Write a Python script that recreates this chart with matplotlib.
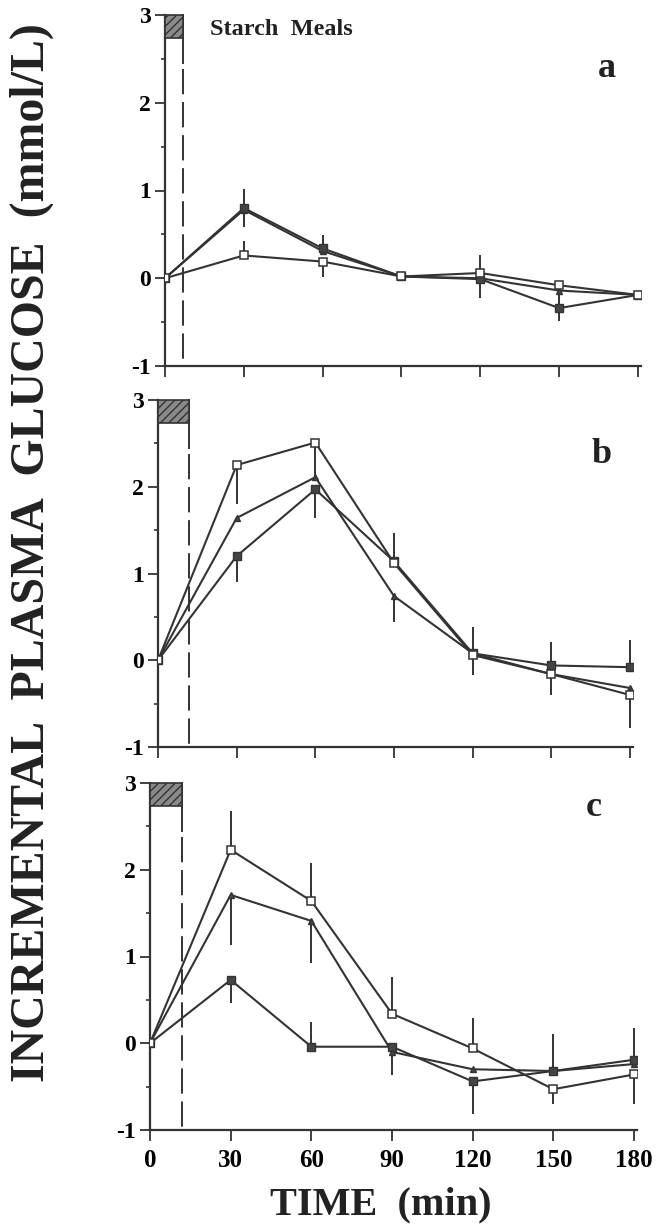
import matplotlib
matplotlib.use("Agg")
import matplotlib.pyplot as plt
from matplotlib.patches import Rectangle

plt.rcParams['font.family'] = ['Liberation Serif', 'DejaVu Serif']
plt.rcParams['font.weight'] = 'bold'

time = [0, 30, 60, 90, 120, 150, 180]

# panel a
a_open = [0, 0.26, 0.19, 0.02, 0.06, -0.08, -0.19]
a_fsq = [0, 0.80, 0.34, 0.02, -0.01, -0.34, -0.19]
a_tri = [0, 0.78, 0.31, 0.02, 0.00, -0.14, -0.19]
a_open_up = [0, 0.17, 0, 0, 0.20, 0, 0]
a_open_dn = [0, 0, 0.18, 0, 0, 0, 0]
a_fsq_up = [0, 0.22, 0.15, 0, 0, 0.19, 0]
a_fsq_dn = [0, 0.22, 0, 0, 0.21, 0.15, 0]
a_tri_up = [0, 0, 0, 0, 0, 0, 0]
a_tri_dn = [0, 0, 0, 0, 0, 0, 0]

# panel b
b_open = [0, 2.25, 2.51, 1.12, 0.06, -0.16, -0.40]
b_fsq = [0, 1.20, 1.97, 1.14, 0.08, -0.06, -0.08]
b_tri = [0, 1.64, 2.11, 0.74, 0.08, -0.16, -0.32]
b_open_up = [0, 0, 0, 0, 0, 0, 0]
b_open_dn = [0, 0.45, 0.40, 0, 0.23, 0.24, 0.38]
b_fsq_up = [0, 0, 0, 0.33, 0.30, 0.27, 0.31]
b_fsq_dn = [0, 0.30, 0.33, 0, 0, 0, 0]
b_tri_up = [0, 0, 0, 0, 0, 0, 0]
b_tri_dn = [0, 0, 0, 0.30, 0, 0, 0]

# panel c
c_open = [0, 2.23, 1.64, 0.34, -0.06, -0.53, -0.36]
c_fsq = [0, 0.73, -0.04, -0.04, -0.44, -0.32, -0.19]
c_tri = [0, 1.71, 1.41, -0.10, -0.30, -0.32, -0.24]
c_open_up = [0, 0.45, 0.44, 0.42, 0.35, 0, 0]
c_open_dn = [0, 0, 0, 0, 0, 0.17, 0.34]
c_fsq_up = [0, 0, 0.28, 0, 0, 0.43, 0.37]
c_fsq_dn = [0, 0.27, 0, 0.33, 0.38, 0, 0]
c_tri_up = [0, 0, 0, 0, 0, 0, 0]
c_tri_dn = [0, 0.58, 0.49, 0, 0, 0, 0]

meal_end = [7, 12, 12]   # min, end of the starch meal bar
letters = ['a', 'b', 'c']
letter_pos = [(168, 2.39), (169, 2.37), (165, 2.72)]
xticks = [0, 30, 60, 90, 120, 150, 180]
xticklabels = ['0', '30', '60', '90', '120', '150', '180']

dark = '#333333'
W, H = 660, 1228
# axes boxes in pixels: left, right(at x=181), top(y=3), bottom(y=-1)
boxes = [(165, 640.6, 15, 366), (158, 632.6, 400, 747), (150, 636.7, 783, 1130)]

fig = plt.figure(figsize=(W / 100, H / 100), dpi=100)

panels = [
    (a_open, a_fsq, a_tri, a_open_up, a_open_dn, a_fsq_up, a_fsq_dn, a_tri_up, a_tri_dn),
    (b_open, b_fsq, b_tri, b_open_up, b_open_dn, b_fsq_up, b_fsq_dn, b_tri_up, b_tri_dn),
    (c_open, c_fsq, c_tri, c_open_up, c_open_dn, c_fsq_up, c_fsq_dn, c_tri_up, c_tri_dn),
]

for i, p in enumerate(panels):
    op, fs, tr, ou, od, fu, fd, tu, td = p
    l, r, t, b = boxes[i]
    ax = fig.add_axes([l / W, 1 - b / H, (r - l) / W, (b - t) / H])
    ax.set_xlim(0, 181)
    ax.set_ylim(-1, 3)
    for s in ['top', 'right']:
        ax.spines[s].set_visible(False)
    for s in ['left', 'bottom']:
        ax.spines[s].set_linewidth(1.6)
        ax.spines[s].set_color(dark)

    # error bars
    ax.errorbar(time, op, yerr=[od, ou], fmt='none', ecolor=dark, elinewidth=1.4, capsize=0, zorder=2)
    ax.errorbar(time, fs, yerr=[fd, fu], fmt='none', ecolor=dark, elinewidth=1.4, capsize=0, zorder=2)
    ax.errorbar(time, tr, yerr=[td, tu], fmt='none', ecolor=dark, elinewidth=1.4, capsize=0, zorder=2)

    ax.plot(time, tr, color=dark, lw=1.5, marker='^', ms=5, mfc='#444444', mec=dark, zorder=3)
    ax.plot(time, fs, color=dark, lw=1.5, marker='s', ms=5.5, mfc='#444444', mec=dark, zorder=3)
    ax.plot(time, op, color=dark, lw=1.5, marker='s', ms=5.5, mfc='white', mec=dark, mew=1.1, zorder=4)

    # starch meal marker
    m = meal_end[i]
    ax.add_patch(Rectangle((0, 2.74), m, 0.26, facecolor='#8a8a8a', edgecolor=dark,
                           hatch='////', lw=1.2, zorder=3, clip_on=False))
    ax.plot([m, m], [3, 2.45], color=dark, lw=1.4, clip_on=False)
    ax.plot([m, m], [2.38, -1], color=dark, lw=1.4, ls=(0, (13, 4)), clip_on=False)

    ax.set_yticks([-1, 0, 1, 2, 3])
    ax.set_yticks([-0.5, 0.5, 1.5, 2.5], minor=True)
    ax.set_yticklabels(['-1', '0', '1', '2', '3'], fontsize=17, fontweight='bold')
    ax.set_xticks(xticks)
    ax.tick_params(axis='y', which='major', direction='out', length=7, width=1.3, color=dark, pad=3)
    ax.tick_params(axis='y', which='minor', direction='out', length=3, width=1.2, color=dark)
    ax.tick_params(axis='x', direction='out', length=8, width=1.3, color=dark, pad=6)
    if i == 2:
        ax.set_xticklabels(xticklabels, fontsize=18, fontweight='bold')
    else:
        ax.set_xticklabels([])

    lx, ly = letter_pos[i]
    ax.text(lx, ly, letters[i], fontsize=26, fontweight='bold', ha='center', va='center', color='#222222')
    if i == 0:
        ax.text(17, 2.84, 'Starch  Meals', fontsize=17.5, fontweight='bold', ha='left', va='center',
                color='#222222')

fig.text(32 / W, 1 - 553 / H, 'INCREMENTAL  PLASMA  GLUCOSE  (mmol/L)', rotation=90,
         fontsize=34.5, fontweight='bold', ha='center', va='center', color='#222222')
fig.text(381 / W, 1 - 1205 / H, 'TIME  (min)', fontsize=29, fontweight='bold',
         ha='center', va='center', color='#222222')

fig.savefig('out.png', dpi=100, facecolor='white')
